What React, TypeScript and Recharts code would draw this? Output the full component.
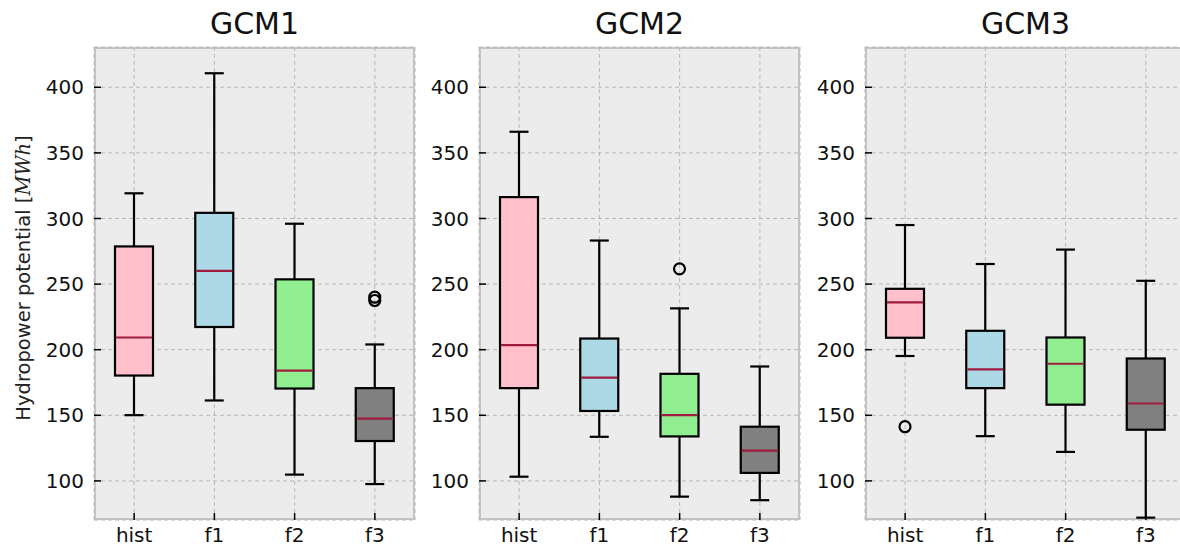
import React from 'react';
import { ComposedChart, Bar, XAxis, YAxis, CartesianGrid } from 'recharts';

const categories = ['hist', 'f1', 'f2', 'f3'];
const panelTitles = ['GCM1', 'GCM2', 'GCM3'];
const yTicks = [100, 150, 200, 250, 300, 350, 400];

// GCM1
const gcm1Low = [150.1, 161.3, 104.8, 97.6];
const gcm1Q1 = [180.3, 217.3, 170.4, 130.4];
const gcm1Median = [209.3, 260, 184, 147.5];
const gcm1Q3 = [278.7, 304.3, 253.6, 170.7];
const gcm1High = [319.2, 410.7, 296, 204];
const gcm1Outliers = [[], [], [], [240, 237.5]];

// GCM2
const gcm2Low = [103.2, 133.6, 88, 85.3];
const gcm2Q1 = [170.7, 153.3, 133.9, 106.1];
const gcm2Median = [203.5, 178.7, 150.1, 123];
const gcm2Q3 = [316.3, 208.5, 181.6, 141.3];
const gcm2High = [366.1, 283.2, 231.5, 187.2];
const gcm2Outliers = [[], [], [261.6], []];

// GCM3
const gcm3Low = [195.2, 134.1, 122.1, 72];
const gcm3Q1 = [209.1, 170.7, 158.1, 139];
const gcm3Median = [236, 185, 189.3, 159];
const gcm3Q3 = [246.4, 214.4, 209.3, 193.3];
const gcm3High = [295, 265.3, 276.3, 252.5];
const gcm3Outliers = [[141.3], [], [], []];

const boxColors = ['#ffc0cb', '#add8e6', '#90ee90', '#808080'];
const medianColor = '#a01c3e';
const font = '"DejaVu Sans", sans-serif';

const buildRows = (
  low: number[],
  q1: number[],
  med: number[],
  q3: number[],
  high: number[],
  outliers: number[][]
) =>
  categories.map((cat, i) => ({
    cat,
    box: [q1[i], q3[i]],
    low: low[i],
    q1: q1[i],
    med: med[i],
    q3: q3[i],
    high: high[i],
    outliers: outliers[i],
  }));

const panelData = [
  buildRows(gcm1Low, gcm1Q1, gcm1Median, gcm1Q3, gcm1High, gcm1Outliers),
  buildRows(gcm2Low, gcm2Q1, gcm2Median, gcm2Q3, gcm2High, gcm2Outliers),
  buildRows(gcm3Low, gcm3Q1, gcm3Median, gcm3Q3, gcm3High, gcm3Outliers),
];

// box + whiskers + median + fliers, positioned from the bar geometry recharts gives us
const BoxShape = (props: any) => {
  const { x, y, width, height, payload, index } = props;
  const top = Math.min(y, y + height);
  const h = Math.abs(height);
  const k = h / (payload.q3 - payload.q1);
  const py = (v: number) => top + (payload.q3 - v) * k;
  const cx = x + width / 2;
  const cap = width / 4;
  const line = { stroke: '#000', strokeWidth: 2.2 };
  return (
    <g>
      <line x1={cx} x2={cx} y1={py(payload.high)} y2={top} {...line} />
      <line x1={cx} x2={cx} y1={top + h} y2={py(payload.low)} {...line} />
      <line x1={cx - cap} x2={cx + cap} y1={py(payload.high)} y2={py(payload.high)} {...line} />
      <line x1={cx - cap} x2={cx + cap} y1={py(payload.low)} y2={py(payload.low)} {...line} />
      <rect x={x} y={top} width={width} height={h} fill={boxColors[index]} {...line} />
      <line x1={x + 1} x2={x + width - 1} y1={py(payload.med)} y2={py(payload.med)} stroke={medianColor} strokeWidth={2.2} />
      {payload.outliers.map((v: number, j: number) => (
        <circle key={j} cx={cx} cy={py(v)} r={5.5} fill="none" stroke="#000" strokeWidth={2.2} />
      ))}
    </g>
  );
};

const XTick = ({ x, y, payload }: any) => (
  <text x={x} y={y} dy="0.71em" textAnchor="middle" fontSize={20} fontFamily={font} fill="#111">
    {payload.value}
  </text>
);

const YTick = ({ x, y, payload }: any) => (
  <text x={x} y={y} dy="0.36em" textAnchor="end" fontSize={20} fontFamily={font} fill="#111">
    {payload.value}
  </text>
);

const PLOT_W = 321;
const PLOT_TOP = 47;
const PLOT_BOTTOM = 520;
const CHART_H = 549;
const panelLefts = [94, 479, 865];

const Panel = ({ idx }: { idx: number }) => {
  const axisW = idx === 0 ? 94 : 60;
  const chartLeft = panelLefts[idx] - axisW;
  const width = axisW + PLOT_W + 4;
  return (
    <>
      <div
        style={{
          position: 'absolute',
          left: panelLefts[idx],
          top: PLOT_TOP,
          width: PLOT_W,
          height: PLOT_BOTTOM - PLOT_TOP,
          background: '#ececec',
          border: '2px solid #c4c4c4',
          boxSizing: 'border-box',
        }}
      />
      <div
        style={{
          position: 'absolute',
          left: panelLefts[idx],
          width: PLOT_W,
          top: 9,
          textAlign: 'center',
          fontFamily: font,
          fontSize: 30,
          lineHeight: '30px',
          color: '#111',
        }}
      >
        {panelTitles[idx]}
      </div>
      <div style={{ position: 'absolute', left: chartLeft, top: 0 }}>
        <ComposedChart
          width={width}
          height={CHART_H}
          data={panelData[idx]}
          margin={{ top: PLOT_TOP, right: 4, bottom: 0, left: 0 }}
        >
          <CartesianGrid stroke="#b8b8b8" strokeDasharray="4 3" strokeWidth={1} />
          <XAxis
            dataKey="cat"
            type="category"
            height={CHART_H - PLOT_BOTTOM}
            axisLine={false}
            tickLine={{ stroke: '#000', strokeWidth: 1.5 }}
            tickSize={-7}
            tickMargin={15}
            interval={0}
            tick={<XTick />}
          />
          <YAxis
            type="number"
            domain={[70.2, 430.7]}
            ticks={yTicks}
            interval={0}
            width={axisW}
            axisLine={false}
            tickLine={{ stroke: '#000', strokeWidth: 1.5 }}
            tickSize={-7}
            tickMargin={17}
            tick={<YTick />}
          />
          <Bar dataKey="box" barSize={38} shape={<BoxShape />} isAnimationActive={false} />
        </ComposedChart>
      </div>
    </>
  );
};

export default function App() {
  return (
    <div
      style={{
        position: 'absolute',
        left: 0,
        top: 0,
        width: 1180,
        height: 549,
        overflow: 'hidden',
        background: '#fff',
      }}
    >
      {panelTitles.map((_, i) => (
        <Panel key={i} idx={i} />
      ))}
      <div
        style={{
          position: 'absolute',
          left: 23,
          top: 278,
          transform: 'translate(-50%, -50%) rotate(-90deg)',
          whiteSpace: 'nowrap',
          fontFamily: font,
          fontSize: 19.5,
          color: '#222',
        }}
      >
        Hydropower potential [
        <span style={{ fontStyle: 'italic', fontFamily: '"DejaVu Serif", serif' }}>MWh</span>]
      </div>
    </div>
  );
}
